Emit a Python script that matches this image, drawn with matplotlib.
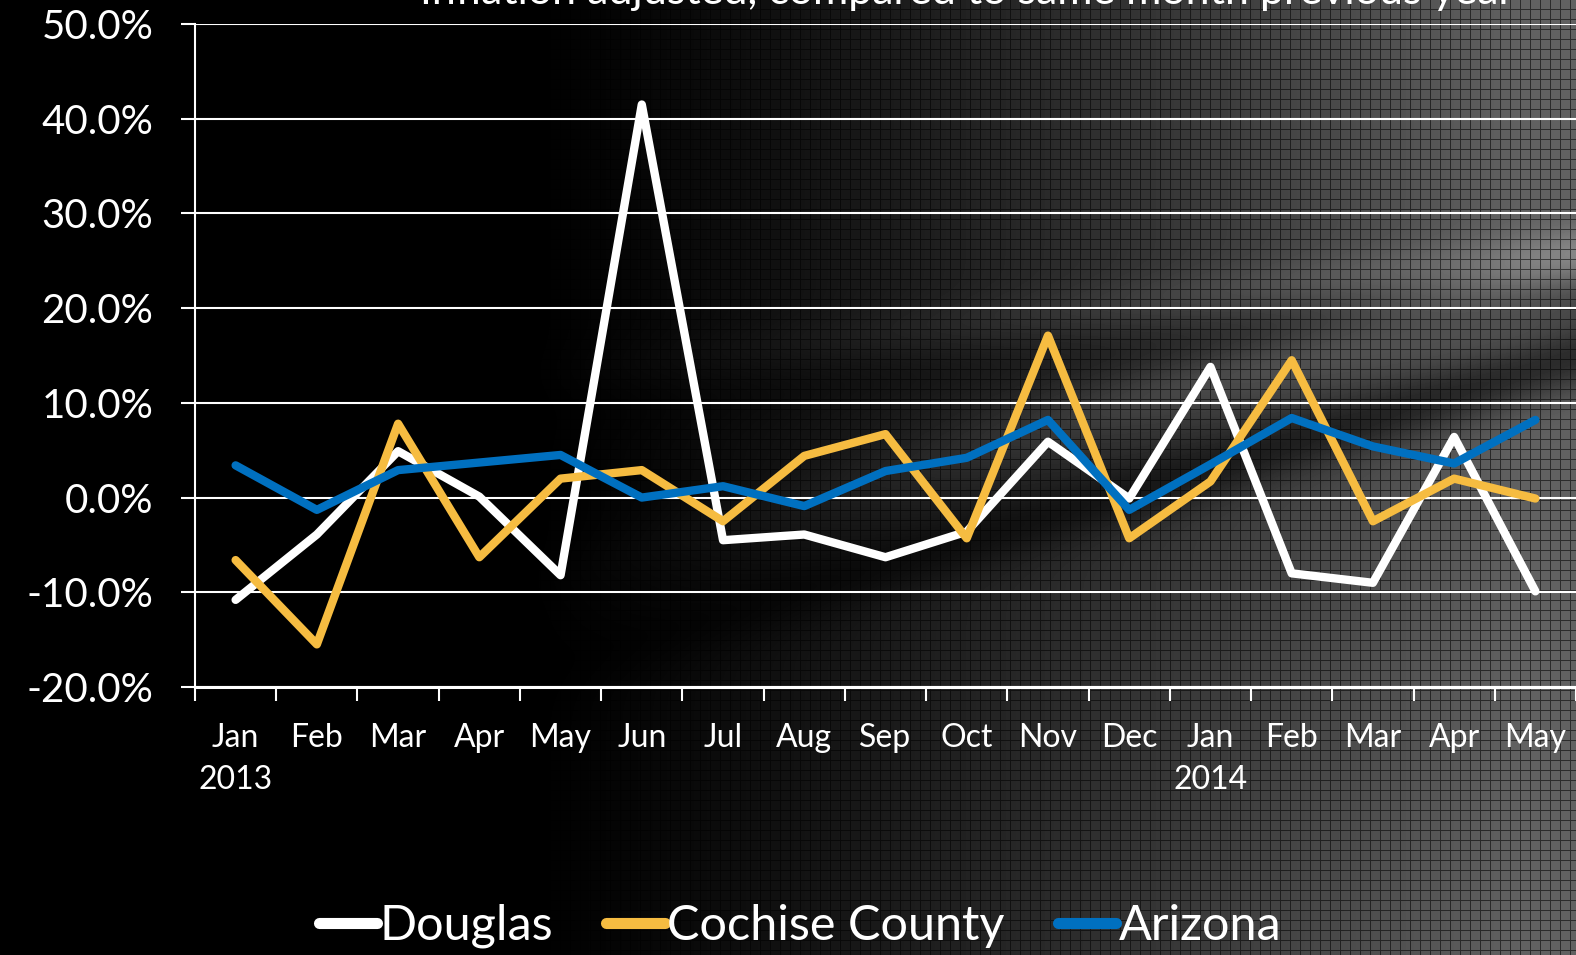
import numpy as np
import matplotlib
matplotlib.use("Agg")
import matplotlib.pyplot as plt
from matplotlib.ticker import FixedLocator, FuncFormatter

# ---------------- data ----------------
months = ["Jan", "Feb", "Mar", "Apr", "May", "Jun", "Jul", "Aug", "Sep",
          "Oct", "Nov", "Dec", "Jan", "Feb", "Mar", "Apr", "May"]
years = {0: "2013", 12: "2014"}
douglas = [-10.8, -3.9, 4.9, 0.1, -8.2, 41.5, -4.5, -3.9, -6.3, -3.6,
           5.9, -0.1, 13.8, -8.0, -9.0, 6.4, -9.9]
cochise = [-6.6, -15.5, 7.8, -6.3, 2.0, 2.9, -2.5, 4.4, 6.7, -4.3,
           17.1, -4.3, 1.7, 14.5, -2.5, 2.0, -0.1]
arizona = [3.4, -1.3, 2.9, 3.7, 4.5, 0.0, 1.2, -0.9, 2.8, 4.2,
           8.2, -1.3, 3.5, 8.4, 5.4, 3.6, 8.2]
series_names = ["Douglas", "Cochise County", "Arizona"]
series_colors = ["#FFFFFF", "#F6BC41", "#0070C0"]
title = "Inflation adjusted, compared to same month previous year"

FONT = ["Lato", "DejaVu Sans"]
plt.rcParams["font.family"] = FONT

W, H = 1576, 955
fig = plt.figure(figsize=(W / 100, H / 100), dpi=100)
fig.patch.set_facecolor("black")

# ---------------- background texture ----------------
bg = fig.add_axes([0, 0, 1, 1], zorder=-10)
yy, xx = np.mgrid[0:H, 0:W].astype(float)
t = np.clip((xx - 520) / 1000.0, 0, 1)
base = 0.38 * t ** 1.3
yband = 650 - 0.30 * (xx - 600)
base *= 1 - 0.55 * np.exp(-((yy - yband) / 35.0) ** 2)
base += 0.10 * t * np.exp(-((yy - (yband - 90)) / 30.0) ** 2)
yband2 = 330 - 0.12 * (xx - 900)
base += 0.08 * t * np.exp(-((yy - yband2) / 25.0) ** 2)
base *= 1 - 0.25 * np.exp(-((yy - (yband2 + 50)) / 30.0) ** 2)
grid = np.ones_like(base)
grid[(xx.astype(int) % 10) == 0] = 0.45
grid[(yy.astype(int) % 10) == 0] = 0.45
img = np.clip(base * grid, 0, 1)
bg.imshow(img, cmap="gray", vmin=0, vmax=1, extent=[0, W, H, 0],
          aspect="auto", interpolation="nearest")
bg.set_xlim(0, W)
bg.set_ylim(H, 0)
bg.axis("off")

# ---------------- main axes ----------------
left, right, top, bottom = 195, 1576, 24, 687
ax = fig.add_axes([left / W, 1 - bottom / H, (right - left) / W, (bottom - top) / H])
ax.set_facecolor("none")

x = np.arange(len(months))
for vals, name, col in zip([douglas, cochise, arizona], series_names, series_colors):
    ax.plot(x, vals, color=col, lw=6.0, label=name,
            solid_capstyle="round", solid_joinstyle="round", zorder=3)

ax.set_xlim(-0.5, len(months) - 0.5)
ax.set_ylim(-20, 50)
ax.set_yticks(np.arange(-20, 51, 10))
ax.yaxis.set_major_formatter(FuncFormatter(lambda v, p: f"{v:.1f}%"))
ax.grid(axis="y", color="white", lw=1.5, zorder=1)
ax.set_axisbelow(True)

labels = [m + ("\n" + years[i] if i in years else "") for i, m in enumerate(months)]
ax.set_xticks(x)
ax.set_xticklabels(labels, linespacing=1.5)
ax.xaxis.set_minor_locator(FixedLocator(np.arange(-0.5, len(months), 1.0)))
ax.tick_params(axis="x", which="major", length=0, pad=26, labelsize=23, colors="white")
ax.tick_params(axis="x", which="minor", length=10, width=1.5, color="white", direction="out")
ax.tick_params(axis="y", which="major", length=10, width=1.5, color="white",
               pad=20, labelsize=29, labelcolor="white")

for s in ["top", "right"]:
    ax.spines[s].set_visible(False)
ax.spines["left"].set_color("white")
ax.spines["left"].set_linewidth(1.5)
ax.spines["bottom"].set_color("white")
ax.spines["bottom"].set_linewidth(2.2)

# title (cut at the top edge, as in the reference)
fig.text(967 / W, 1 - 4 / H, title, ha="center", va="baseline",
         color="white", fontsize=31)

leg = fig.legend(loc="center", bbox_to_anchor=(800 / W, 1 - 926 / H), ncol=3,
                 frameon=False, fontsize=35, handlelength=1.2, handletextpad=0.05,
                 columnspacing=1.1, labelcolor="white")
for ln in leg.get_lines():
    ln.set_linewidth(8)
    ln.set_solid_capstyle("round")

fig.savefig("out.png", dpi=100, facecolor=fig.get_facecolor())
